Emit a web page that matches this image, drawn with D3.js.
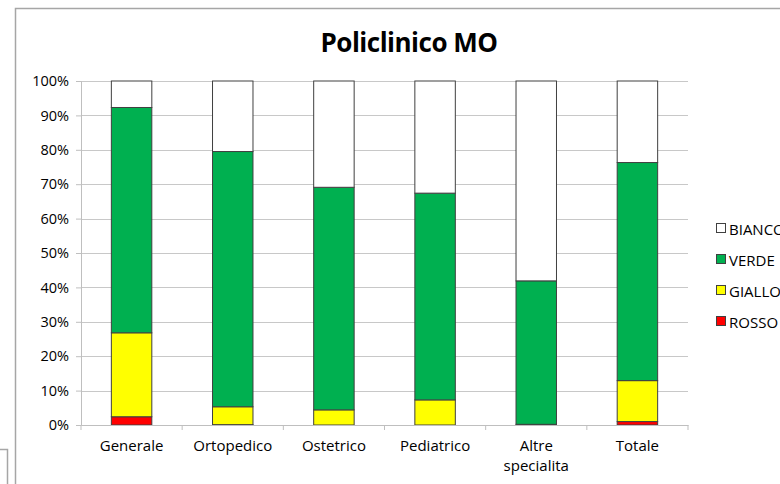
<!DOCTYPE html>
<html>
<head>
<meta charset="utf-8">
<script src="https://cdn.jsdelivr.net/npm/d3@7"></script>
<style>
  body { margin: 0; background: #fff; }
  svg text { font-family: "Open Sans", sans-serif; fill: #000; }
</style>
</head>
<body>
<div id="chart"></div>
<script>
// data (percent of each category)
var categories = ["Generale", "Ortopedico", "Ostetrico", "Pediatrico", "Altre specialita", "Totale"];
var seriesNames = ["ROSSO", "GIALLO", "VERDE", "BIANCO"];
var rosso  = [2.4, 0.1, 0,    0,    0,    1.0];
var giallo = [24.4, 5.2, 4.4, 7.3,  0.2,  11.9];
var verde  = [65.5, 74.2, 64.7, 60.1, 41.7, 63.4];
var bianco = [7.7, 20.5, 30.9, 32.6, 58.1, 23.7];
var yTicks = [0, 10, 20, 30, 40, 50, 60, 70, 80, 90, 100];

var colors = {ROSSO: "#ff0000", GIALLO: "#ffff00", VERDE: "#00b050", BIANCO: "#ffffff"};

var W = 780, H = 484;
var margin = {top: 81, right: 92, bottom: 59, left: 81};
var width = W - margin.left - margin.right,
    height = H - margin.top - margin.bottom;

var svg = d3.select("#chart").append("svg")
  .attr("width", W).attr("height", H);

// chart frames
svg.append("path")
  .attr("d", "M0,449.5 H7.5 V484")
  .attr("fill", "none").attr("stroke", "#a6a6a6").attr("stroke-width", 1.5);
svg.append("path")
  .attr("d", "M780,8.5 H15.5 V484")
  .attr("fill", "none").attr("stroke", "#a6a6a6").attr("stroke-width", 1.5);

// title
svg.append("text")
  .attr("x", 409).attr("y", 52)
  .attr("text-anchor", "middle")
  .style("font-size", "26px").style("font-weight", "bold")
  .style("letter-spacing", "-0.5px")
  .text("Policlinico MO");

var g = svg.append("g")
  .attr("transform", "translate(" + margin.left + "," + margin.top + ")");

var x = d3.scaleBand().domain(categories).range([0, width])
  .paddingInner(0.6).paddingOuter(0.3);
var y = d3.scaleLinear().domain([0, 100]).range([height, 0]);

// gridlines
g.selectAll(".grid").data(yTicks.slice(1)).enter()
  .append("line")
  .attr("x1", 0).attr("x2", width)
  .attr("y1", function(d) { return Math.round(y(d)) + 0.5; })
  .attr("y2", function(d) { return Math.round(y(d)) + 0.5; })
  .attr("stroke", "#c8c8c8").attr("stroke-width", 1.2);

// Y axis
var yAxis = g.append("g")
  .call(d3.axisLeft(y).tickValues(yTicks).tickSize(5).tickPadding(7)
    .tickFormat(function(d) { return d + "%"; }));
yAxis.select(".domain").attr("stroke", "#bfbfbf");
yAxis.selectAll(".tick line").attr("stroke", "#bfbfbf");
yAxis.selectAll("text").style("font-size", "14.5px");

// stacked bars
var table = categories.map(function(c, i) {
  return {cat: c, ROSSO: rosso[i], GIALLO: giallo[i], VERDE: verde[i], BIANCO: bianco[i]};
});
var stacked = d3.stack().keys(seriesNames)(table);

g.selectAll(".series").data(stacked).enter()
  .append("g")
  .attr("fill", function(d) { return colors[d.key]; })
  .selectAll("rect").data(function(d) { return d; }).enter()
  .append("rect")
  .attr("x", function(d) { return x(d.data.cat); })
  .attr("y", function(d) { return y(d[1]); })
  .attr("width", x.bandwidth())
  .attr("height", function(d) { return Math.max(0, y(d[0]) - y(d[1])); })
  .attr("stroke", "#404040").attr("stroke-width", 1);

// X axis
var xAxis = g.append("g")
  .attr("transform", "translate(0," + height + ")")
  .call(d3.axisBottom(x).tickSize(0).tickPadding(15));
xAxis.select(".domain").attr("stroke", "#bfbfbf");
xAxis.selectAll("text").style("font-size", "15px");
// separators between categories
g.append("g").selectAll("line").data(d3.range(categories.length + 1)).enter()
  .append("line")
  .attr("x1", function(i) { return i * x.step(); })
  .attr("x2", function(i) { return i * x.step(); })
  .attr("y1", height).attr("y2", height + 5)
  .attr("stroke", "#bfbfbf");
// wrap two-word label
xAxis.selectAll(".tick text").each(function(d) {
  var words = d.split(" ");
  if (words.length > 1) {
    var t = d3.select(this).text(null);
    words.forEach(function(w, k) {
      t.append("tspan").attr("x", 0).attr("dy", k === 0 ? "0.71em" : "1.35em").text(w);
    });
  }
});

// legend
var legendItems = seriesNames.slice().reverse();
var legend = svg.append("g").attr("transform", "translate(716,229)");
legendItems.forEach(function(s, i) {
  var row = legend.append("g").attr("transform", "translate(0," + (i * 31) + ")");
  row.append("rect").attr("x", 0.5).attr("y", -5.5).attr("width", 9).attr("height", 9)
    .attr("fill", colors[s]).attr("stroke", "#404040");
  row.append("text").attr("x", 13).attr("y", 5.5)
    .style("font-size", "15px").text(s);
});
</script>
</body>
</html>
